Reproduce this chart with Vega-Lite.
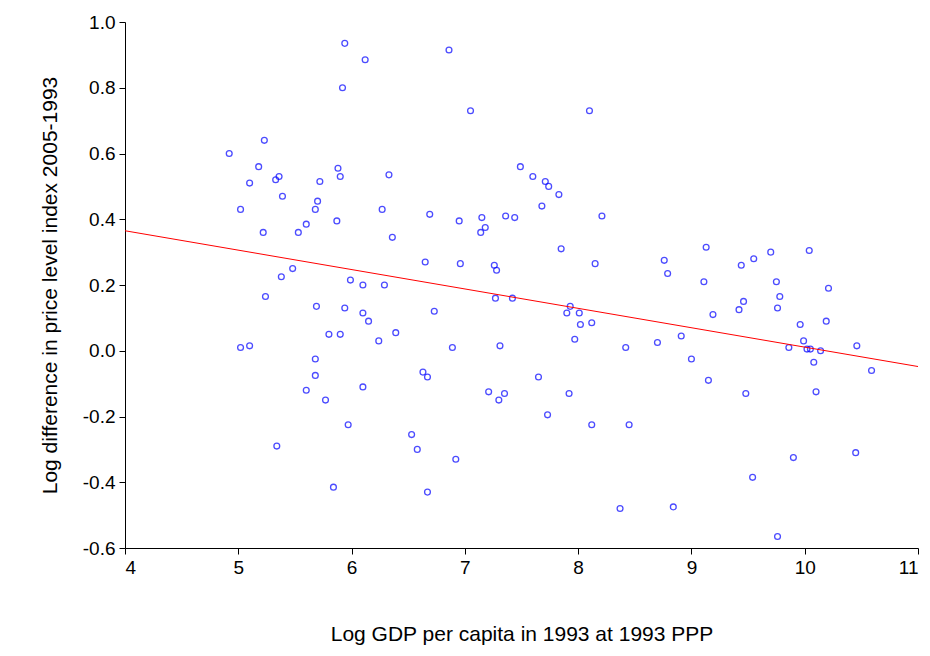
{"$schema":"https://vega.github.io/schema/vega-lite/v6.json","autosize":"none","width":793,"height":526,"padding":{"left":125,"top":22,"right":12,"bottom":108},"background":"white","config":{"view":{"stroke":null},"axis":{"grid":false,"domainColor":"black","tickColor":"black","labelFont":"Liberation Sans","titleFont":"Liberation Sans","labelFontSize":19,"titleFontSize":21,"titleFontWeight":"normal","labelColor":"black","titleColor":"black","tickSize":6}},
"layer":[
{"data":{"values":[
{"x":4.92,"y":0.60},{"x":5.02,"y":0.43},{"x":5.02,"y":0.01},{"x":5.10,"y":0.51},{"x":5.10,"y":0.015},{"x":5.18,"y":0.56},{"x":5.23,"y":0.64},{"x":5.22,"y":0.36},{"x":5.24,"y":0.165},{"x":5.33,"y":0.52},{"x":5.36,"y":0.53},{"x":5.39,"y":0.47},{"x":5.38,"y":0.225},{"x":5.34,"y":-0.29},{"x":5.48,"y":0.25},{"x":5.53,"y":0.36},{"x":5.60,"y":0.385},{"x":5.60,"y":-0.12},{"x":5.68,"y":0.43},{"x":5.70,"y":0.455},{"x":5.72,"y":0.515},{"x":5.69,"y":0.135},{"x":5.68,"y":-0.025},{"x":5.68,"y":-0.075},{"x":5.77,"y":-0.15},{"x":5.80,"y":0.05},{"x":5.84,"y":-0.415},{"x":5.87,"y":0.395},{"x":5.88,"y":0.555},{"x":5.90,"y":0.53},{"x":5.90,"y":0.05},{"x":5.92,"y":0.80},{"x":5.94,"y":0.935},{"x":5.94,"y":0.13},{"x":5.99,"y":0.215},{"x":5.97,"y":-0.225},{"x":6.10,"y":0.20},{"x":6.10,"y":0.115},{"x":6.10,"y":-0.11},{"x":6.12,"y":0.885},{"x":6.15,"y":0.09},{"x":6.24,"y":0.03},{"x":6.27,"y":0.43},{"x":6.29,"y":0.20},{"x":6.33,"y":0.535},{"x":6.36,"y":0.345},{"x":6.39,"y":0.055},{"x":6.53,"y":-0.255},{"x":6.58,"y":-0.30},{"x":6.63,"y":-0.065},{"x":6.65,"y":0.27},{"x":6.67,"y":-0.08},{"x":6.69,"y":0.415},{"x":6.67,"y":-0.43},{"x":6.73,"y":0.12},{"x":6.86,"y":0.915},{"x":6.89,"y":0.01},{"x":6.92,"y":-0.33},{"x":6.95,"y":0.395},{"x":6.96,"y":0.265},{"x":7.05,"y":0.73},{"x":7.14,"y":0.36},{"x":7.15,"y":0.405},{"x":7.18,"y":0.375},{"x":7.21,"y":-0.125},{"x":7.26,"y":0.26},{"x":7.27,"y":0.16},{"x":7.28,"y":0.245},{"x":7.30,"y":-0.15},{"x":7.31,"y":0.015},{"x":7.35,"y":-0.13},{"x":7.36,"y":0.41},{"x":7.42,"y":0.16},{"x":7.44,"y":0.405},{"x":7.49,"y":0.56},{"x":7.60,"y":0.53},{"x":7.65,"y":-0.08},{"x":7.68,"y":0.44},{"x":7.71,"y":0.515},{"x":7.73,"y":-0.195},{"x":7.74,"y":0.50},{"x":7.83,"y":0.475},{"x":7.85,"y":0.31},{"x":7.90,"y":0.115},{"x":7.93,"y":0.135},{"x":7.92,"y":-0.13},{"x":7.97,"y":0.035},{"x":8.01,"y":0.115},{"x":8.02,"y":0.08},{"x":8.10,"y":0.73},{"x":8.12,"y":0.085},{"x":8.15,"y":0.265},{"x":8.12,"y":-0.225},{"x":8.21,"y":0.41},{"x":8.37,"y":-0.48},{"x":8.42,"y":0.01},{"x":8.45,"y":-0.225},{"x":8.70,"y":0.025},{"x":8.76,"y":0.275},{"x":8.79,"y":0.235},{"x":8.84,"y":-0.475},{"x":8.91,"y":0.045},{"x":9.00,"y":-0.025},{"x":9.11,"y":0.21},{"x":9.13,"y":0.315},{"x":9.15,"y":-0.09},{"x":9.19,"y":0.11},{"x":9.42,"y":0.125},{"x":9.44,"y":0.26},{"x":9.46,"y":0.15},{"x":9.48,"y":-0.13},{"x":9.55,"y":0.28},{"x":9.54,"y":-0.385},{"x":9.70,"y":0.30},{"x":9.75,"y":0.21},{"x":9.76,"y":0.13},{"x":9.78,"y":0.165},{"x":9.76,"y":-0.565},{"x":9.86,"y":0.01},{"x":9.90,"y":-0.325},{"x":9.96,"y":0.08},{"x":9.99,"y":0.03},{"x":10.02,"y":0.005},{"x":10.04,"y":0.305},{"x":10.05,"y":0.005},{"x":10.08,"y":-0.035},{"x":10.10,"y":-0.125},{"x":10.14,"y":0.0},{"x":10.19,"y":0.09},{"x":10.21,"y":0.19},{"x":10.45,"y":-0.31},{"x":10.46,"y":0.015},{"x":10.59,"y":-0.06}]},
"mark":{"type":"point","shape":"circle","filled":false,"color":"#0000ff","size":34,"strokeWidth":1.3},
"encoding":{"x":{"field":"x","type":"quantitative","scale":{"domain":[4,11],"nice":false},"axis":{"values":[4,5,6,7,8,9,10,11],"format":"d","title":"Log GDP per capita in 1993 at 1993 PPP","titlePadding":46,"labelPadding":4}},
"y":{"field":"y","type":"quantitative","scale":{"domain":[-0.6,1.0],"nice":false,"zero":false},"axis":{"values":[-0.6,-0.4,-0.2,0,0.2,0.4,0.6,0.8,1.0],"labelExpr":"replace(format(datum.value,'.1f'),'−','-')","title":"Log difference in price level index 2005-1993","titlePadding":22,"labelPadding":4}}}},
{"data":{"values":[{"x":4,"y":0.365},{"x":11,"y":-0.048}]},
"mark":{"type":"line","color":"#ff0000","strokeWidth":1},
"encoding":{"x":{"field":"x","type":"quantitative"},"y":{"field":"y","type":"quantitative"}}}
]}
